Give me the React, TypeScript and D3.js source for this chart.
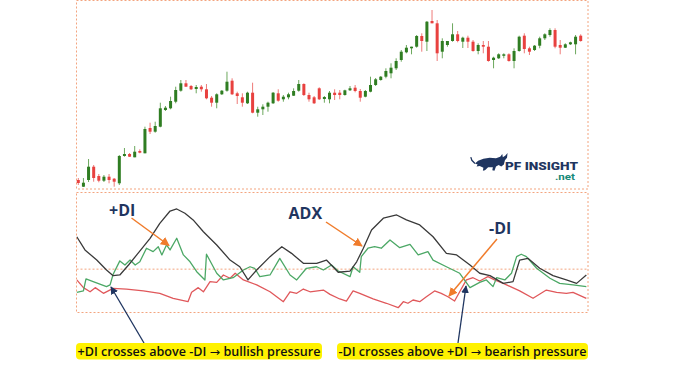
import React from 'react';
import * as d3 from 'd3';

// candle OHLC, one entry per bar
const opens = [20, 13.3, 20, 33.3, 24, 19.3, 23.3, 21.3, 16.7, 44, 46, 42.7, 49, 46.7, 72, 68.3, 73.3, 90, 91.7, 98.3,
  109.3, 116.7, 114, 111, 113.3, 110.7, 102.3, 97.3, 105.7, 109.3, 119.3, 106.7, 102.7, 96.7, 107.3, 87.3, 90.7, 93.3, 96.7, 106.7,
  100.7, 102.7, 104.3, 109.3, 116, 105, 102.7, 111.7, 101, 100.7, 107.3, 107.3, 105, 109.7, 112.3, 109, 103.3, 108.3, 115, 120,
  123.3, 126.7, 131.7, 140, 147.7, 151.7, 153.3, 164, 158.3, 179, 176.7, 148.3, 155, 159, 165.7, 158.3, 162.3, 158.3, 149, 155,
  153.3, 140, 141.7, 144.3, 145.7, 139, 149, 164.3, 151.7, 150, 154.3, 161.7, 165, 170, 155, 152.3, 155.7, 155.7, 164.3];
const highs = [22, 22, 41, 35, 26, 25, 26, 22, 45, 52, 47, 54, 50.7, 73.3, 77.3, 78.3, 97.3, 94, 103.3, 113.3,
  120, 120, 115, 115, 115, 116, 104, 106.7, 110, 128.3, 121.7, 108.3, 106.7, 108.3, 117.3, 93.3, 95.7, 98.3, 108, 110.7,
  105, 107.3, 111.7, 120, 116.7, 107.3, 104, 112.7, 104, 109, 110.7, 110, 110.3, 114, 115, 111, 110, 123.3, 122, 124,
  131.7, 136.7, 141.7, 150, 155, 153.3, 165, 166.7, 179, 190, 180, 161.7, 159, 176.7, 169, 163.3, 164.3, 160, 156.7, 159,
  159, 143.3, 146.7, 146.7, 146.7, 151.7, 164.3, 166.7, 153.3, 155, 163.3, 166.7, 171.7, 171.7, 160, 156.7, 158.3, 165, 165.7];
const lows = [15, 13, 18, 18.3, 17.7, 18, 16.7, 13.3, 15, 43.3, 43, 42.7, 46.7, 46.7, 66, 67.3, 72.7, 89, 90.7, 96.7,
  108.3, 113.3, 110, 106.7, 108.3, 100.7, 93.3, 91.7, 105, 108.3, 105, 96, 93.3, 96, 86.7, 83.3, 85, 88.3, 96, 98.3,
  98.3, 100.7, 104, 108.3, 104, 98.3, 96, 100, 97.3, 96.7, 100, 100.7, 104.3, 109, 107.7, 98.3, 102.7, 107.7, 114, 119.3,
  121.7, 121.7, 130, 138.3, 146.7, 145.7, 152.3, 148.3, 149, 176.7, 139, 141.7, 153.3, 158.3, 157.7, 152, 152, 148.3, 145.7, 146.7,
  138.3, 131.7, 141, 141.7, 138.3, 131.7, 148.3, 146.7, 145, 149, 151.7, 160, 163.3, 151.7, 145.7, 152, 155, 145.7, 158.3];
const closes = [17, 17.3, 33.3, 22, 19.3, 23.3, 20, 18.3, 44, 46, 43.3, 48.3, 47.3, 71, 68.3, 74, 91.7, 92.3, 99, 110,
  116.7, 113.3, 110.7, 113, 110.7, 101.7, 97.3, 105.7, 109.3, 118.3, 105.7, 104, 97.3, 107.3, 87.3, 90.7, 93.3, 97.3, 107.3, 99.3,
  103.3, 105.7, 109, 116, 105, 100.7, 96.7, 100.7, 103, 107.3, 105, 105, 109.7, 111.7, 109, 102.3, 109, 115, 120.7, 123.3,
  129, 132.3, 139, 148.3, 152.3, 153.3, 164, 159, 178.3, 176.7, 146.7, 159, 159, 165.7, 159, 162.3, 158.3, 149, 155, 153.3,
  139, 142.3, 145.7, 145.7, 139, 149, 163.3, 151, 148.3, 154.3, 161.7, 165.7, 170, 153.3, 152.3, 155.7, 157.7, 163.3, 159];

// indicator lines as [bar, value]
const adx = [[-0.3, 43.9], [1.3, 36.2], [3.6, 30.3], [5.5, 24.5], [6.8, 21.2], [8.1, 21.6], [9.8, 27.4], [11.4, 33.3],
  [14, 43], [15.9, 51.7], [17.9, 58.9], [19.2, 60.1], [20.8, 57.6], [22.4, 53.7], [24.4, 46.8], [27, 39.1], [29.6, 30.3],
  [31.5, 26.4], [33.1, 18.7], [34.8, 24.5], [37.4, 32.3], [39.7, 38.1], [41.6, 34.2], [43.9, 28.4], [46.5, 28.4],
  [48.4, 30.3], [50.7, 23.2], [53, 23.9], [54.3, 29.3], [55.6, 37.2], [57.2, 47.8], [59.5, 54.7], [62.1, 56.6],
  [64, 53.7], [66.6, 50.8], [69.2, 43.9], [71.8, 34.2], [73.8, 33.3], [76.4, 27.4], [78.3, 22.6], [80.3, 21.2],
  [82.9, 16.7], [84.8, 17.7], [86.1, 30.3], [87.7, 31.3], [90, 25.5], [92.6, 21.2], [95.2, 18.7], [97.2, 16.7], [99.1, 21.6]];
const plusDI = [[-0.3, 11.5], [1, 12.3], [1.5, 19.3], [2.9, 17.7], [4.6, 15.8], [5.5, 14.8], [6.2, 15.8], [6.8, 22],
  [8.1, 29.8], [9.1, 27.4], [10.1, 30.3], [11.1, 27.4], [12, 29.3], [13.3, 37.2], [14.6, 35.2], [15.6, 38.1], [16.3, 33.3],
  [17.2, 39.1], [17.9, 36.2], [19.2, 43], [20.5, 33.3], [21.8, 29.3], [23.1, 23.5], [24.7, 18.7], [25, 33.7], [27, 22.6],
  [28.3, 18.7], [30.2, 20], [32.2, 24.5], [33.5, 26.4], [34.4, 25.5], [35.4, 20.6], [37.4, 21.6], [39.3, 31.3], [41.3, 21.6],
  [42.6, 18.7], [44.5, 25.5], [46.5, 26.4], [47.8, 24.5], [49.4, 27.4], [50.7, 23.9], [53, 20.6], [53.6, 26.4], [54.9, 23.2],
  [55.2, 32.3], [56.5, 37.2], [57.8, 38.1], [59.1, 37.2], [60.8, 42], [62.7, 37.5], [64.7, 39.5], [66.3, 33.3], [68.2, 35.2],
  [69.2, 30.3], [71.8, 26.4], [74.4, 22.6], [76.4, 14.2], [78.3, 17.3], [79.6, 18.7], [80.9, 14.8], [81.6, 20], [83.2, 18.7],
  [84.5, 22.6], [85.5, 32.3], [86.4, 33.7], [87.4, 32.3], [89.4, 25.5], [92, 19.7], [93.9, 16.7], [96.5, 15.8], [99.1, 14.8]];
const minusDI = [[-0.3, 18.7], [1, 14.2], [2.3, 11.8], [3.3, 14.2], [4.9, 10.9], [6.8, 13.8], [9.4, 13.4], [12.7, 12.3],
  [15.9, 10.9], [18.5, 8], [21.4, 6], [22.1, 11.5], [23.4, 14.2], [24.4, 11.8], [25.7, 17.7], [27, 17.3], [28.3, 21.6],
  [29.6, 19.7], [30.6, 22.6], [32.2, 18.7], [34.8, 15.8], [37.4, 11.8], [40, 6], [41.3, 11.8], [42.6, 10.9], [43.9, 13.4],
  [45.2, 11.8], [47.8, 12.8], [49.1, 10.3], [51, 7.6], [52.3, 6.4], [53.6, 12.3], [54.9, 10.9], [57.5, 7.6], [60.1, 5.1],
  [62.4, 2.5], [63.4, 6], [64.3, 5.1], [65.3, 7], [66.6, 6], [67.9, 8.9], [69.5, 12.3], [70.8, 10.9], [72.1, 8.9],
  [73.4, 6.4], [74.4, 11.8], [75.7, 18.7], [77, 20], [78.3, 18.1], [79.9, 20.6], [81.2, 18.7], [82.9, 16.7], [86.1, 12.3],
  [88.7, 8], [91.3, 12.8], [93.3, 11.5], [95.2, 10.9], [96.5, 11.5], [99.1, 8]];
const threshold = 25;

const seriesLabels = ['+DI', 'ADX', '-DI'];
// each note: text before the arrow, text after it
const notes = [['+DI crosses above -DI ', ' bullish pressure'], ['-DI crosses above +DI ', ' bearish pressure']];

const NAVY = '#1f3560';
const ORANGE = '#f07c2c';
const BORDER = '#f3a47f';

export default function App() {
  const W = 700;
  const H = 365;
  const top = { x0: 76.5, x1: 588, y0: 0.5, y1: 189 };
  const bot = { x0: 76.5, x1: 588, y0: 192.5, y1: 312.5 };

  const x = d3.scaleLinear().domain([0, 98]).range([78.3, 580.7]);
  const yPrice = d3.scaleLinear().domain([0, 200]).range([200, 0]);
  const yInd = d3.scaleLinear().domain([0, 70]).range([312, 192]);

  const line = d3.line<number[]>()
    .x(d => x(d[0]))
    .y(d => yInd(d[1]));

  const bw = 3;

  return (
    <svg width={W} height={H} style={{ position: 'absolute', left: 0, top: 0, background: '#fff' }}
      fontFamily="'Open Sans', sans-serif">
      <defs>
        <marker id="arrOrange" viewBox="0 0 10 10" refX="9" refY="5" markerWidth="6" markerHeight="6" orient="auto">
          <path d="M0,0 L10,5 L0,10 Z" fill={ORANGE} />
        </marker>
        <marker id="arrNavy" viewBox="0 0 10 10" refX="9" refY="5" markerWidth="6" markerHeight="6" orient="auto">
          <path d="M0,0 L10,5 L0,10 Z" fill={NAVY} />
        </marker>
        <clipPath id="botClip">
          <rect x={bot.x0} y={bot.y0} width={bot.x1 - bot.x0} height={bot.y1 - bot.y0} />
        </clipPath>
      </defs>

      {/* panel frames */}
      <rect x={top.x0} y={top.y0} width={top.x1 - top.x0} height={top.y1 - top.y0}
        fill="none" stroke={BORDER} strokeDasharray="2 2" />
      <rect x={bot.x0} y={bot.y0} width={bot.x1 - bot.x0} height={bot.y1 - bot.y0}
        fill="none" stroke={BORDER} strokeDasharray="2 2" />

      {/* candles */}
      {opens.map((o, i) => {
        const c = closes[i];
        const up = c >= o;
        const col = up ? '#2f7d22' : '#e8413f';
        const wick = up ? '#6da85e' : '#ee7a78';
        const cx = x(i);
        const yTop = yPrice(Math.max(o, c));
        const yBot = yPrice(Math.min(o, c));
        return (
          <g key={i}>
            <line x1={cx} x2={cx} y1={yPrice(highs[i])} y2={yPrice(lows[i])} stroke={wick} strokeWidth={1} />
            <rect x={cx - bw / 2} y={yTop} width={bw} height={Math.max(1.5, yBot - yTop)} fill={col} />
          </g>
        );
      })}

      {/* logo */}
      <g transform="translate(475,154) scale(1.05)">
        <path d="M0,9 L3,6.5 L8,4.5 L14,3.5 L20,4 L24,2.5 L26,0 L26.5,3 L29,1.5 L31,-1 L30.5,3.5 L28.5,6 L27.5,10 L25,12 L22.5,10.5 L20,12 L18.5,16 L16.5,15.5 L17,12.5 L12.5,12.5 L9.5,15.5 L7.5,16 L8,13 L4.5,11.5 L1.5,12 L2.5,10 Z"
          fill={NAVY} />
        <path d="M0,9 L-3,6 L-4,3" fill="none" stroke={NAVY} strokeWidth={1.2} />
      </g>
      <text x={505} y={169.5} fontFamily="Roboto, sans-serif" fontWeight={900} fontSize={11} fill={NAVY}
        textLength={73} lengthAdjust="spacingAndGlyphs">PF INSIGHT</text>
      <text x={555} y={180} fontFamily="Roboto, sans-serif" fontWeight={700} fontSize={8.5} fill="#178a78"
        textLength={20} lengthAdjust="spacingAndGlyphs">.net</text>

      {/* threshold line */}
      <line x1={bot.x0} x2={bot.x1} y1={yInd(threshold)} y2={yInd(threshold)}
        stroke={BORDER} strokeDasharray="2 2" />

      {/* indicator lines */}
      <g clipPath="url(#botClip)" fill="none" strokeWidth={1.3} strokeLinejoin="round">
        <path d={line(minusDI as number[][]) || ''} stroke="#e0585b" />
        <path d={line(plusDI as number[][]) || ''} stroke="#4ca866" />
        <path d={line(adx as number[][]) || ''} stroke="#3a3a3a" />
      </g>

      {/* series annotations */}
      <g fontWeight={700} fill={NAVY} fontSize={16}>
        <text x={109} y={215.5}>{seriesLabels[0]}</text>
        <text x={288.5} y={219}>{seriesLabels[1]}</text>
        <text x={489} y={233.5}>{seriesLabels[2]}</text>
      </g>
      <g stroke={ORANGE} strokeWidth={1.5} markerEnd="url(#arrOrange)">
        <line x1={131.5} y1={218} x2={169} y2={245.5} />
        <line x1={326} y1={222} x2={362} y2={246} />
        <line x1={497} y1={239} x2={449} y2={296} />
      </g>

      {/* crossover arrows */}
      <g stroke={NAVY} strokeWidth={1.3} markerEnd="url(#arrNavy)">
        <line x1={144} y1={343} x2={111} y2={287} />
        <line x1={458} y1={343} x2={466} y2={286} />
      </g>

      {/* notes */}
      <rect x={76} y={343} width={246} height={16.5} rx={4} fill="#fff200" />
      <rect x={337} y={343} width={251} height={16.5} rx={4} fill="#fff200" />
      <g fontSize={12} fill="#111" fontFamily="'Open Sans', sans-serif" fontWeight={600}>
        {notes.map((n, i) => (
          <text key={i} x={i === 0 ? 77.5 : 338.5} y={355.5} textLength={i === 0 ? 243 : 248}
            lengthAdjust="spacingAndGlyphs">
            {n[0]}<tspan fontFamily="'DejaVu Sans', sans-serif" fontWeight={400}>{'\u2192'}</tspan>{n[1]}
          </text>
        ))}
      </g>
    </svg>
  );
}
